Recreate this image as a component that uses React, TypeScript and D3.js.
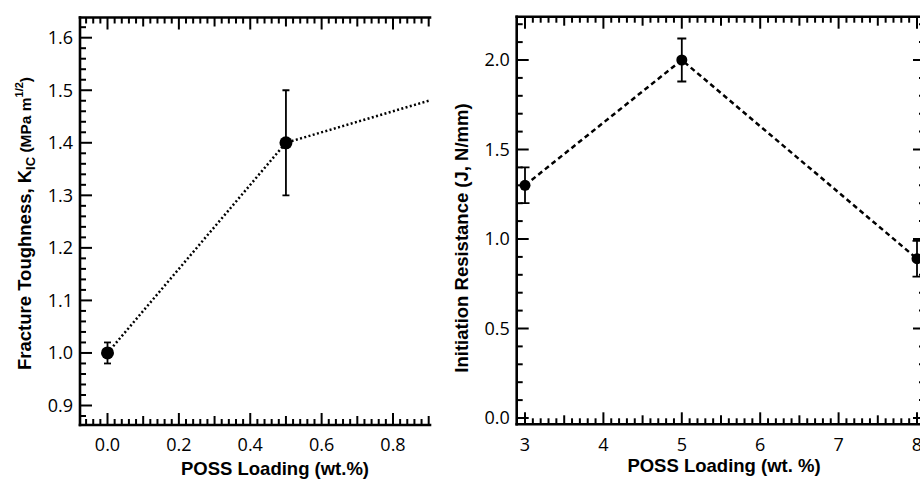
import * as d3 from "d3";
import { useRef, useEffect } from "react";

const W = 920;
const H = 479;

// left panel: fracture toughness vs POSS loading
const leftLoading = [0, 0.5, 1.0];
const leftToughness = [1.0, 1.4, 1.5];
const leftToughnessErr = [0.02, 0.1, 0.05];
const leftXTicks = [0, 0.2, 0.4, 0.6, 0.8];
const leftYTicks = [0.9, 1.0, 1.1, 1.2, 1.3, 1.4, 1.5, 1.6];

// right panel: initiation resistance vs POSS loading
const rightLoading = [3, 5, 8];
const rightResistance = [1.3, 2.0, 0.89];
const rightResistanceErr = [0.1, 0.12, 0.1];
const rightXTicks = [3, 4, 5, 6, 7, 8];
const rightYTicks = [0, 0.5, 1.0, 1.5, 2.0];

const tickFont = "'Open Sans', 'DejaVu Sans', sans-serif";
const titleFont = "'Liberation Sans', Arial, Helvetica, sans-serif";

type Tick = { v: number; len: number };

function drawPanel(svg: any, p: any) {
  const g = svg.append("g");

  // clip region for the data
  const clipId = p.id + "-clip";
  svg.append("defs").append("clipPath").attr("id", clipId)
    .append("rect").attr("x", p.left).attr("y", p.top)
    .attr("width", p.right - p.left).attr("height", p.bottom - p.top);

  const dg = g.append("g").attr("clip-path", `url(#${clipId})`);
  const pts: [number, number][] = p.xs.map((v: number, i: number) => [p.x(v), p.y(p.ys[i])]);

  // connecting line
  dg.append("path").attr("d", d3.line()(pts)).attr("fill", "none").attr("stroke", "#000")
    .attr("stroke-width", 2.5).attr("stroke-dasharray", p.dash);

  // error bars
  p.xs.forEach((v: number, i: number) => {
    const cx = p.x(v);
    const y1 = p.y(p.ys[i] + p.errs[i]);
    const y2 = p.y(p.ys[i] - p.errs[i]);
    dg.append("line").attr("x1", cx).attr("x2", cx).attr("y1", y1).attr("y2", y2).attr("stroke", "#000").attr("stroke-width", 1.8);
    [y1, y2].forEach(yy => {
      dg.append("line").attr("x1", cx - p.cap).attr("x2", cx + p.cap).attr("y1", yy).attr("y2", yy).attr("stroke", "#000").attr("stroke-width", 1.8);
    });
  });

  // markers
  dg.selectAll("circle").data(pts).enter().append("circle")
    .attr("cx", (d: any) => d[0]).attr("cy", (d: any) => d[1]).attr("r", p.r).attr("fill", "#000");

  // ticks on bottom and top axes
  const ax = g.append("g").attr("stroke", "#000").attr("stroke-width", 2);
  p.xMinor.forEach((t: Tick) => {
    const xx = p.x(t.v);
    if (xx < p.left + 1 || xx > p.right) return;
    ax.append("line").attr("x1", xx).attr("x2", xx).attr("y1", p.bottom).attr("y2", p.bottom - t.len);
    ax.append("line").attr("x1", xx).attr("x2", xx).attr("y1", p.top).attr("y2", p.top + t.len);
  });
  // ticks on left (and right) axes
  p.yMinor.forEach((t: Tick) => {
    const yy = p.y(t.v);
    if (yy < p.top + 1 || yy > p.bottom - 1) return;
    ax.append("line").attr("x1", p.left).attr("x2", p.left + t.len).attr("y1", yy).attr("y2", yy);
    if (p.rightAxis) ax.append("line").attr("x1", p.right).attr("x2", p.right - t.len).attr("y1", yy).attr("y2", yy);
  });

  // frame lines
  const fr = g.append("g").attr("stroke", "#000").attr("stroke-width", 2.6).attr("stroke-linecap", "square");
  fr.append("line").attr("x1", p.left).attr("x2", p.left).attr("y1", p.top).attr("y2", p.bottom);
  fr.append("line").attr("x1", p.left).attr("x2", p.right).attr("y1", p.bottom).attr("y2", p.bottom);
  fr.append("line").attr("x1", p.left).attr("x2", p.right).attr("y1", p.top).attr("y2", p.top);
  if (p.rightAxis) fr.append("line").attr("x1", p.right).attr("x2", p.right).attr("y1", p.top).attr("y2", p.bottom);

  // tick labels
  g.append("g").selectAll("text").data(p.xTicks).enter().append("text")
    .attr("x", (d: number) => p.x(d)).attr("y", 445).attr("dy", "0.35em")
    .attr("text-anchor", "middle").style("font-family", tickFont).style("font-size", "18px")
    .text((d: number) => p.xFmt(d));
  g.append("g").selectAll("text").data(p.yTicks).enter().append("text")
    .attr("x", p.left - 7).attr("y", (d: number) => p.y(d)).attr("dy", "0.35em")
    .attr("text-anchor", "end").style("font-family", tickFont).style("font-size", "18px")
    .text((d: number) => p.yFmt(d));
}

export default function App() {
  const svgRef = useRef<SVGSVGElement>(null);

  useEffect(() => {
    document.body.style.margin = "0";
    const svg = d3.select(svgRef.current);
    svg.selectAll("*").remove();
    svg.append("rect").attr("width", W).attr("height", H).attr("fill", "#fff");

    // left panel scales
    const xL = d3.scaleLinear().domain([0, 0.8]).range([107.5, 393]);
    const yL = d3.scaleLinear().domain([0.9, 1.6]).range([405.5, 37.7]);
    drawPanel(svg, {
      id: "left", x: xL, y: yL, left: 80, right: 430, top: 17.5, bottom: 425, rightAxis: false,
      xs: leftLoading, ys: leftToughness, errs: leftToughnessErr,
      dash: "2,2.4", r: 6.5, cap: 3.5,
      xMinor: d3.range(-3, 46).map(i => ({ v: i * 0.02, len: i % 10 === 0 ? 12 : i % 5 === 0 ? 9 : 6 })),
      yMinor: d3.range(43, 83).map(i => ({ v: i * 0.02, len: i % 5 === 0 ? 12 : 6 })),
      xTicks: leftXTicks, yTicks: leftYTicks, xFmt: d3.format(".1f"), yFmt: d3.format(".1f"),
    });

    // right panel scales
    const xR = d3.scaleLinear().domain([3, 8]).range([525, 917]);
    const yR = d3.scaleLinear().domain([0, 2]).range([418, 60]);
    drawPanel(svg, {
      id: "right", x: xR, y: yR, left: 516.7, right: 925, top: 16.7, bottom: 424.3, rightAxis: true,
      xs: rightLoading, ys: rightResistance, errs: rightResistanceErr,
      dash: "5,3.5", r: 5.5, cap: 4.5,
      xMinor: d3.range(29, 82).map(i => ({ v: i / 10, len: i % 10 === 0 ? 12 : i % 5 === 0 ? 9 : 6 })),
      yMinor: d3.range(0, 23).map(i => ({ v: i / 10, len: i % 5 === 0 ? 12 : 6 })),
      xTicks: rightXTicks, yTicks: rightYTicks, xFmt: d3.format("d"), yFmt: d3.format(".1f"),
    });

    // axis titles
    const title = (x: number, y: number, rot: boolean) => svg.append("text")
      .attr("transform", rot ? `translate(${x},${y}) rotate(-90)` : `translate(${x},${y})`)
      .attr("text-anchor", "middle").style("font-family", titleFont)
      .style("font-weight", "bold").style("font-size", "18.5px").attr("fill", "#000");

    title(275, 475, false).text("POSS Loading (wt.%)");
    title(724, 472, false).text("POSS Loading (wt. %)");
    title(468, 238, true).text("Initiation Resistance (J, N/mm)");

    const yl = title(31, 223.5, true);
    yl.append("tspan").text("Fracture Toughness, K");
    yl.append("tspan").attr("dy", 4).style("font-size", "13px").text("IC");
    yl.append("tspan").attr("dy", -4).style("font-size", "15.5px").text(" (MPa m");
    yl.append("tspan").attr("dy", -8).style("font-size", "11px").text("1/2");
    yl.append("tspan").attr("dy", 8).style("font-size", "15.5px").text(")");
  }, []);

  return <svg ref={svgRef} width={W} height={H} style={{ display: "block" }} />;
}
